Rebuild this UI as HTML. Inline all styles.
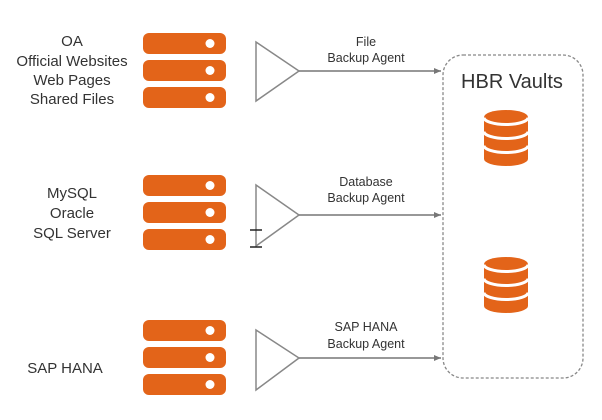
<!DOCTYPE html>
<html><head><style>
body{margin:0;background:#fff;}
svg text{font-family:"Liberation Sans",sans-serif;fill:#333;}
</style></head><body>
<svg width="602" height="415" viewBox="0 0 602 415" xmlns="http://www.w3.org/2000/svg">
<defs>
<marker id="a" markerWidth="8" markerHeight="8" refX="7" refY="4" orient="auto" markerUnits="userSpaceOnUse"><path d="M0,1 L7,4 L0,7 z" fill="#777"/></marker>
<g id="srv">
<rect x="143" y="0" width="83" height="21" rx="6" fill="#e36419"/>
<circle cx="210" cy="10.5" r="4.5" fill="#fff"/>
</g>
<g id="db">
<path d="M484,7 A22,7 0 0 1 528,7 L528,49 A22,7 0 0 1 484,49 Z" fill="#e36419"/>
<path d="M484,7.5 A22,7 0 0 0 528,7.5 M484,21.5 A22,7 0 0 0 528,21.5 M484,35.5 A22,7 0 0 0 528,35.5" fill="none" stroke="#fff" stroke-width="3"/>
</g>
</defs>
<g font-size="15" text-anchor="middle">
<text x="72" y="46">OA</text>
<text x="72" y="66">Official Websites</text>
<text x="72" y="85">Web Pages</text>
<text x="72" y="104">Shared Files</text>
<text x="72" y="198">MySQL</text>
<text x="72" y="218">Oracle</text>
<text x="72" y="238">SQL Server</text>
<text x="65" y="373">SAP  HANA</text>
</g>
<use href="#srv" y="33"/><use href="#srv" y="60"/><use href="#srv" y="87"/>
<use href="#srv" y="175"/><use href="#srv" y="202"/><use href="#srv" y="229"/>
<use href="#srv" y="320"/><use href="#srv" y="347"/><use href="#srv" y="374"/>
<g fill="none" stroke="#888" stroke-width="1.5">
<path d="M256,42 L299,71 L256,101 Z"/>
<path d="M256,185 L299,215 L256,246 Z"/>
<path d="M256,330 L299,358 L256,390 Z"/>
<path d="M250,230 h12 M250,247 h12" stroke="#222"/>
</g>
<g stroke="#777" stroke-width="1.5" marker-end="url(#a)">
<line x1="299" y1="71" x2="441" y2="71"/>
<line x1="299" y1="215" x2="441" y2="215"/>
<line x1="299" y1="358" x2="441" y2="358"/>
</g>
<g font-size="12.5" text-anchor="middle">
<text x="366" y="46">File</text><text x="366" y="62">Backup Agent</text>
<text x="366" y="186">Database</text><text x="366" y="202">Backup Agent</text>
<text x="366" y="331">SAP HANA</text><text x="366" y="348">Backup Agent</text>
</g>
<rect x="443" y="55" width="140" height="323" rx="20" fill="none" stroke="#888" stroke-width="1.3" stroke-dasharray="3,2"/>
<text x="512" y="88" font-size="20" text-anchor="middle">HBR Vaults</text>
<use href="#db" y="110"/>
<use href="#db" y="257"/>
</svg>
</body></html>
